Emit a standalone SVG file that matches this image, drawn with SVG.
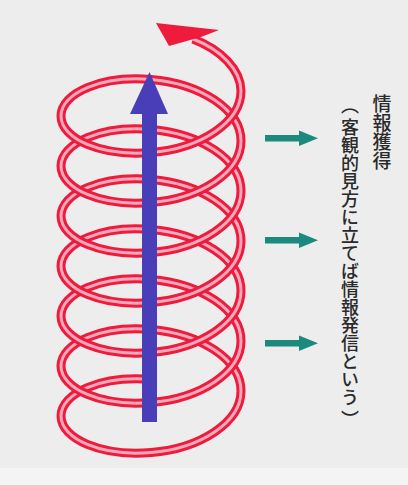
<svg xmlns="http://www.w3.org/2000/svg" width="408" height="485" viewBox="0 0 408 485">
  <style>
    .tube-o { fill: none; stroke: #ee1b3d; stroke-width: 9; stroke-linecap: butt; stroke-linejoin: round; }
    .tube-i { fill: none; stroke: #f7a9bb; stroke-width: 3; stroke-linecap: butt; stroke-linejoin: round; }
    .teal { fill: #1b8a7d; }
    .vt { font-family: "Noto Sans CJK JP", "Noto Sans", sans-serif; font-size: 18px; font-weight: 500; fill: #2a2a2a; writing-mode: vertical-rl; }
  </style>
  <defs>
    <path id="back" d="M151,379.5 C101.3,375.33 61,393.11 61,416
      M241,391 C241,359.77 200.7,333.67 151,329.5 C101.3,325.33 61,343.11 61,366
      M241,341 C241,309.77 200.7,283.67 151,279.5 C101.3,275.33 61,293.11 61,316
      M241,291 C241,259.77 200.7,233.67 151,229.5 C101.3,225.33 61,243.11 61,266
      M241,241 C241,209.77 200.7,183.67 151,179.5 C101.3,175.33 61,193.11 61,216
      M241,191 C241,159.77 200.7,133.67 151,129.5 C101.3,125.33 61,143.11 61,166
      M241,141 C241,109.77 200.7,83.67 151,79.5 C101.3,75.33 61,93.11 61,116
      M241,91 C241,70.1 221.2,49.7 193,39"/>
    <path id="front" d="M61,416 C61,438.89 101.3,456.67 151,452.5 C200.7,448.33 241,422.23 241,391
      M61,366 C61,388.89 101.3,406.67 151,402.5 C200.7,398.33 241,372.23 241,341
      M61,316 C61,338.89 101.3,356.67 151,352.5 C200.7,348.33 241,322.23 241,291
      M61,266 C61,288.89 101.3,306.67 151,302.5 C200.7,298.33 241,272.23 241,241
      M61,216 C61,238.89 101.3,256.67 151,252.5 C200.7,248.33 241,222.23 241,191
      M61,166 C61,188.89 101.3,206.67 151,202.5 C200.7,198.33 241,172.23 241,141
      M61,116 C61,138.89 101.3,156.67 151,152.5 C200.7,148.33 241,122.23 241,91"/>
  </defs>
  <rect width="408" height="485" fill="#ededed"/>
  <rect y="468" width="408" height="17" fill="#f4f4f4"/>

  <g id="helix">
    <use href="#back" class="tube-o"/>
    <use href="#back" class="tube-i"/>
    <use href="#front" class="tube-o"/>
    <use href="#front" class="tube-i"/>
    <polygon points="156,23 219,30 201,37 169,46" fill="#ee1b3d"/>
  </g>

  <g id="up-arrow">
    <rect x="142" y="110" width="15" height="312" fill="#4a3db8"/>
    <polygon points="149.5,72 168,114 130,114" fill="#4a3db8"/>
  </g>

  <g id="connectors">
    <g class="teal">
      <rect x="265" y="135" width="37" height="6.5"/>
      <polygon points="299,130.5 318,138.2 299,146"/>
      <rect x="265" y="237" width="37" height="6.5"/>
      <polygon points="299,232.5 318,240.2 299,248"/>
      <rect x="265" y="340" width="37" height="6.5"/>
      <polygon points="299,335.5 318,343.2 299,351"/>
    </g>
  </g>

  <g id="label">
    <text class="vt" x="382" y="94" style="font-size:19px">情報獲得</text>
    <text class="vt" x="350"><tspan y="96">（</tspan><tspan y="118">客観的見方に立てば情報発信という</tspan><tspan y="410">）</tspan></text>
  </g>
</svg>
